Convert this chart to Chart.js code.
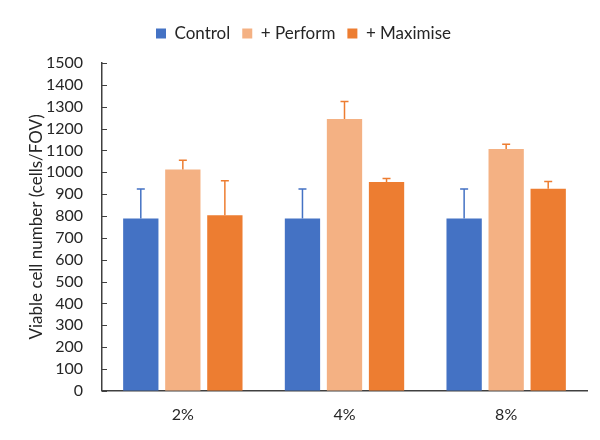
<!DOCTYPE html>
<html>
<head>
<meta charset="utf-8">
<script src="https://cdn.jsdelivr.net/npm/chart.js@4"></script>
<style>
  html, body { margin: 0; padding: 0; background: #fff; }
  #wrap { width: 600px; height: 440px; }
</style>
</head>
<body>
<div id="wrap"><canvas id="chart"></canvas></div>
<script>
const categories = ['2%', '4%', '8%'];
const control = [788, 788, 788];
const controlErr = [135, 135, 135];
const perform = [1013, 1244, 1107];
const performErr = [42, 80, 21];
const maximise = [803, 955, 925];
const maximiseErr = [158, 17, 33];
const yTicks = [0, 100, 200, 300, 400, 500, 600, 700, 800, 900, 1000, 1100, 1200, 1300, 1400, 1500];

const FONT = 'Lato, "Open Sans", sans-serif';

// upward error bars + inward y ticks, drawn through the chart's own scales
const errorBars = {
    id: 'errorBars',
    beforeInit(chart) {
        // a bit more room under the legend
        const fit = chart.legend.fit;
        chart.legend.fit = function () {
            fit.call(this);
            this.height += 11;
        };
    },
    afterDatasetsDraw(chart) {
        const ctx = chart.ctx;
        const y = chart.scales.y;
        chart.data.datasets.forEach((ds, i) => {
            const meta = chart.getDatasetMeta(i);
            meta.data.forEach((bar, j) => {
                const top = y.getPixelForValue(ds.data[j] + ds.errors[j]);
                ctx.save();
                ctx.strokeStyle = ds.errorColor;
                ctx.lineWidth = 1.5;
                ctx.beginPath();
                ctx.moveTo(bar.x, bar.y);
                ctx.lineTo(bar.x, top);
                ctx.moveTo(bar.x - 4, top);
                ctx.lineTo(bar.x + 4, top);
                ctx.stroke();
                ctx.restore();
            });
        });
    },
    afterDraw(chart) {
        const ctx = chart.ctx;
        const y = chart.scales.y;
        ctx.save();
        ctx.strokeStyle = '#404040';
        ctx.lineWidth = 1;
        y.ticks.forEach(t => {
            const py = Math.round(y.getPixelForValue(t.value)) + 0.5;
            ctx.beginPath();
            ctx.moveTo(y.right, py);
            ctx.lineTo(y.right + 5, py);
            ctx.stroke();
        });
        ctx.restore();
    }
};

new Chart(document.getElementById('chart'), {
    type: 'bar',
    data: {
        labels: categories,
        datasets: [
            { label: 'Control', data: control, errors: controlErr, backgroundColor: '#4472C4', errorColor: '#4472C4' },
            { label: '+ Perform', data: perform, errors: performErr, backgroundColor: '#F4B183', errorColor: '#ED7D31' },
            { label: '+ Maximise', data: maximise, errors: maximiseErr, backgroundColor: '#ED7D31', errorColor: '#ED7D31' }
        ]
    },
    options: {
        responsive: true,
        maintainAspectRatio: false,
        animation: false,
        layout: { padding: { left: 20, right: 13, top: 13, bottom: 2 } },
        datasets: { bar: { categoryPercentage: 0.78, barPercentage: 0.84 } },
        plugins: {
            legend: {
                position: 'top',
                labels: {
                    boxWidth: 10, boxHeight: 10, padding: 12,
                    color: '#262626',
                    font: { family: FONT, size: 17 }
                }
            },
            tooltip: { enabled: false }
        },
        scales: {
            x: {
                grid: { display: false, drawTicks: false },
                border: { display: true, color: '#404040', width: 1.5 },
                ticks: { color: '#262626', padding: 14, font: { family: FONT, size: 16 } }
            },
            y: {
                min: 0,
                max: 1500,
                afterBuildTicks(axis) { axis.ticks = yTicks.map(v => ({ value: v })); },
                afterFit(axis) { axis.width = 82; },
                grid: { display: false, drawTicks: false },
                border: { display: true, color: '#404040', width: 1.5 },
                ticks: {
                    color: '#262626', padding: 19, autoSkip: false,
                    font: { family: FONT, size: 16 },
                    callback: v => String(v)
                },
                title: {
                    display: true,
                    text: 'Viable cell number (cells/FOV)',
                    color: '#262626',
                    padding: { top: 6, bottom: 0 },
                    font: { family: FONT, size: 17 }
                }
            }
        }
    },
    plugins: [errorBars]
});
</script>
</body>
</html>
